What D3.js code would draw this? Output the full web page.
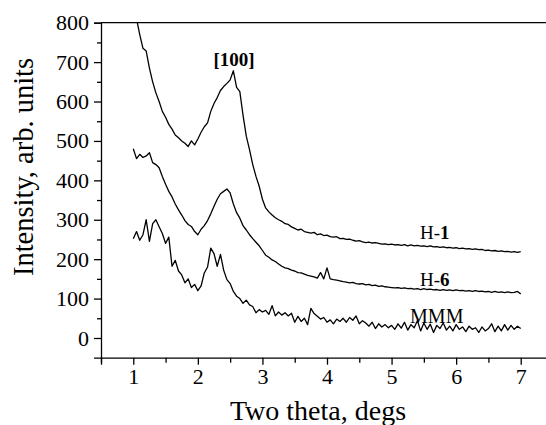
<!DOCTYPE html>
<html>
<head>
<meta charset="utf-8">
<script src="https://cdn.jsdelivr.net/npm/d3@7"></script>
<style>
  body { margin: 0; background: #fff; }
  svg { display: block; }
</style>
</head>
<body>
<div id="chart"></div>
<script>
// two theta (degs)
const twoTheta = [
  1.00,1.05,1.10,1.15,1.20,1.25,1.30,1.35,1.40,1.45,
  1.50,1.55,1.60,1.65,1.70,1.75,1.80,1.85,1.90,1.95,
  2.00,2.05,2.10,2.15,2.20,2.25,2.30,2.35,2.40,2.45,
  2.50,2.55,2.60,2.65,2.70,2.75,2.80,2.85,2.90,2.95,
  3.00,3.05,3.10,3.15,3.20,3.25,3.30,3.35,3.40,3.45,
  3.50,3.55,3.60,3.65,3.70,3.75,3.80,3.85,3.90,3.95,
  4.00,4.05,4.10,4.15,4.20,4.25,4.30,4.35,4.40,4.45,
  4.50,4.55,4.60,4.65,4.70,4.75,4.80,4.85,4.90,4.95,
  5.00,5.05,5.10,5.15,5.20,5.25,5.30,5.35,5.40,5.45,
  5.50,5.55,5.60,5.65,5.70,5.75,5.80,5.85,5.90,5.95,
  6.00,6.05,6.10,6.15,6.20,6.25,6.30,6.35,6.40,6.45,
  6.50,6.55,6.60,6.65,6.70,6.75,6.80,6.85,6.90,6.95,
  7.00
];

const h1 = [
  860,810,770,735,728,685,650,622,600,575,
  560,542,530,515,508,500,494,486,500,490,
  505,522,536,546,575,595,610,628,638,646,
  655,678,636,625,565,512,478,440,410,385,
  352,330,320,312,305,300,296,290,288,282,
  278,274,276,270,268,266,268,262,264,260,
  261,257,256,257,252,253,250,251,248,246,
  247,244,242,243,241,242,240,238,239,237,
  238,236,237,235,237,234,236,234,235,233,
  234,232,234,231,232,230,231,229,230,228,
  229,227,228,226,227,225,226,224,225,222,
  223,221,222,220,221,219,220,218,219,217,
  219
];

const h6 = [
  480,455,466,458,462,470,445,440,432,410,
  390,372,358,340,325,312,298,288,283,270,
  262,276,285,298,315,334,352,366,372,378,
  368,340,318,304,285,274,262,252,243,234,
  222,210,205,198,194,188,182,178,176,172,
  170,166,165,162,159,157,155,152,166,150,
  178,150,148,147,145,143,142,140,141,138,
  137,138,135,136,133,134,131,132,130,129,
  128,127,128,126,127,125,126,124,125,123,
  125,123,124,122,123,121,123,121,122,120,
  122,120,121,119,120,118,120,118,119,117,
  118,116,118,116,117,115,117,115,116,118,
  112
];

const mmm = [
  252,270,248,262,300,245,290,300,282,265,
  240,256,182,197,170,160,140,150,128,136,
  120,132,165,180,228,214,182,212,172,148,
  138,118,106,100,88,96,84,80,64,72,
  66,70,60,82,56,66,58,64,56,63,
  40,55,42,50,34,75,62,55,48,52,
  40,46,36,48,42,50,40,52,45,56,
  36,44,38,30,40,24,36,28,34,26,
  32,22,36,25,40,20,34,26,44,18,
  38,22,35,14,32,24,38,20,30,18,
  34,22,28,16,30,22,26,14,28,18,
  24,36,16,30,18,34,20,32,22,30,
  24
];

const seriesList = [h1, h6, mmm];

const xTicks = [1, 2, 3, 4, 5, 6, 7];
const xMinorTicks = [0.5, 1.5, 2.5, 3.5, 4.5, 5.5, 6.5];
const yTicks = [0, 100, 200, 300, 400, 500, 600, 700, 800];
const yMinorTicks = [50, 150, 250, 350, 450, 550, 650, 750];

// curve labels, anchored in data units
const labels = [
  { prefix: "", text: "[100]", x: 2.56, y: 690 },
  { prefix: "H-", text: "1", x: 5.67, y: 250 },
  { prefix: "H-", text: "6", x: 5.67, y: 133 },
  { prefix: "MMM", text: "", x: 5.70, y: 38 }
];

const width = 546;
const height = 425;
const margin = { top: 22.7, left: 101, bottom: 67.3 };
const font = "'Liberation Serif', 'Times New Roman', serif";

const svg = d3.select("#chart").append("svg")
  .attr("width", width)
  .attr("height", height);

const x = d3.scaleLinear().domain([0.5, 7.5]).range([margin.left, 553]);
const y = d3.scaleLinear().domain([-50, 800]).range([height - margin.bottom, margin.top]);

svg.append("defs").append("clipPath").attr("id", "plot")
  .append("rect")
  .attr("x", x(0.5)).attr("y", y(800))
  .attr("width", x(7.5) - x(0.5)).attr("height", y(-50) - y(800));

// curves
const line = d3.line()
  .x((d, i) => x(twoTheta[i]))
  .y(d => y(d));

svg.append("g").attr("clip-path", "url(#plot)")
  .selectAll("path")
  .data(seriesList)
  .enter().append("path")
  .attr("fill", "none")
  .attr("stroke", "#000")
  .attr("stroke-width", 1.3)
  .attr("stroke-linejoin", "round")
  .attr("d", line);

// axes
svg.append("g")
  .attr("transform", `translate(0,${y(-50)})`)
  .call(d3.axisBottom(x).tickValues(xTicks).tickFormat(d3.format("d")).tickSizeOuter(0).tickSize(7).tickPadding(4));
svg.append("g")
  .attr("transform", `translate(0,${y(-50)})`)
  .call(d3.axisBottom(x).tickValues(xMinorTicks).tickFormat("").tickSizeOuter(0).tickSize(5))
  .select(".domain").remove();

svg.append("g")
  .attr("transform", `translate(${x(0.5)},0)`)
  .call(d3.axisLeft(y).tickValues(yTicks).tickFormat(d3.format("d")).tickSizeOuter(0).tickSize(7).tickPadding(5));
svg.append("g")
  .attr("transform", `translate(${x(0.5)},0)`)
  .call(d3.axisLeft(y).tickValues(yMinorTicks).tickFormat("").tickSizeOuter(0).tickSize(4))
  .select(".domain").remove();

svg.selectAll(".tick line, .domain").attr("stroke", "#000").attr("stroke-width", 1.3);
svg.selectAll(".tick text")
  .attr("fill", "#000")
  .attr("font-family", font)
  .attr("font-size", "22px");

// top frame line
svg.append("line")
  .attr("x1", x(0.5)).attr("x2", x(7.5))
  .attr("y1", y(800)).attr("y2", y(800))
  .attr("stroke", "#000").attr("stroke-width", 1.3);

// axis titles
svg.append("text")
  .attr("x", 318).attr("y", 419.5)
  .attr("text-anchor", "middle")
  .attr("font-family", font)
  .attr("font-size", "28px")
  .text("Two theta, degs");

svg.append("text")
  .attr("transform", "translate(33,167) rotate(-90)")
  .attr("text-anchor", "middle")
  .attr("font-family", font)
  .attr("font-size", "28.5px")
  .text("Intensity, arb. units");

const lab = svg.selectAll("text.label")
  .data(labels)
  .enter().append("text")
  .attr("class", "label")
  .attr("x", d => x(d.x))
  .attr("y", d => y(d.y))
  .attr("text-anchor", "middle")
  .attr("font-family", font)
  .attr("font-size", d => d.prefix === "MMM" ? "20px" : "19px");

lab.append("tspan").text(d => d.prefix);
lab.append("tspan").attr("font-weight", "bold").text(d => d.text);
</script>
</body>
</html>
